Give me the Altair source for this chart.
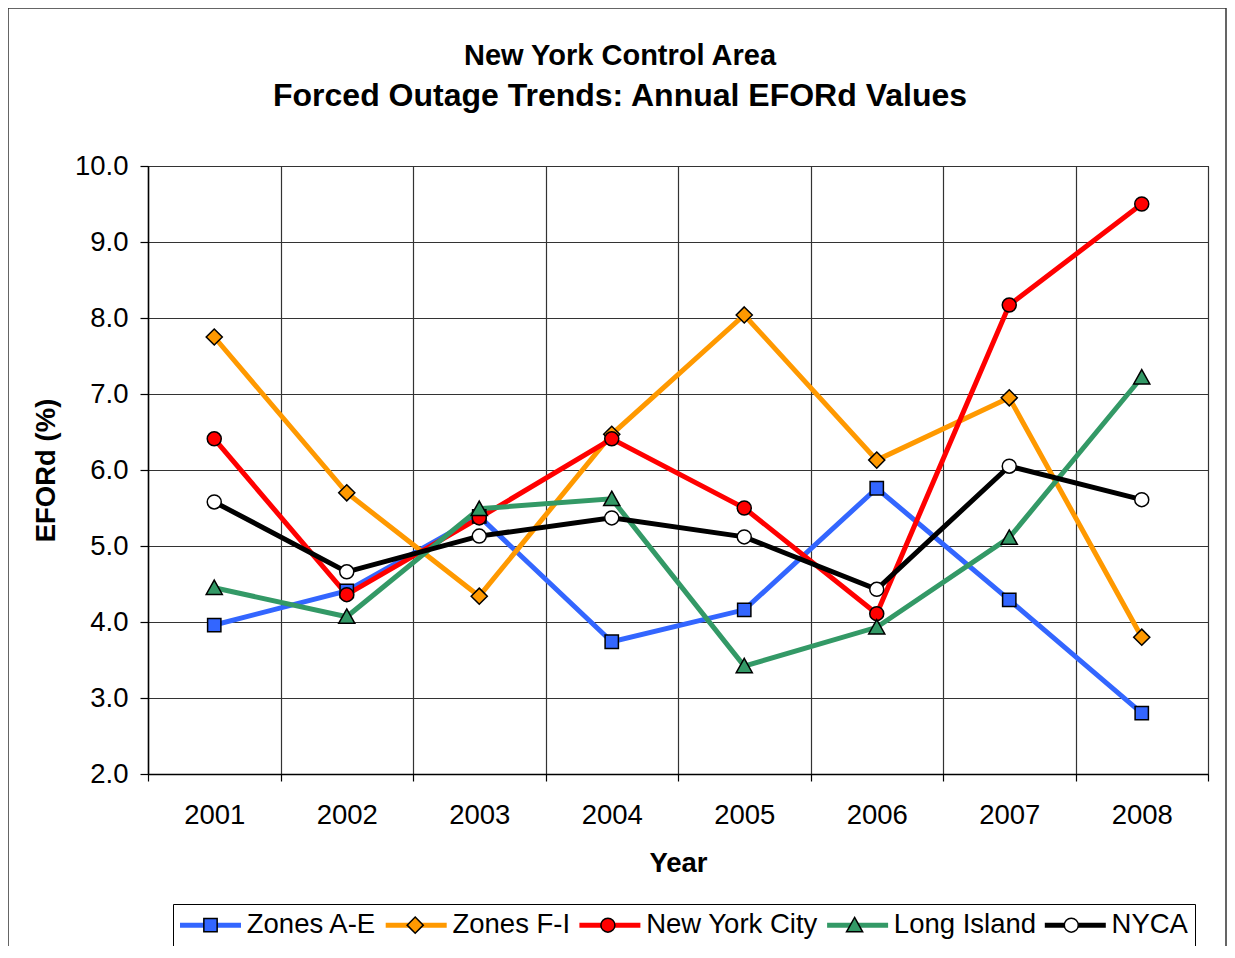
import altair as alt
import pandas as pd

years = ["2001", "2002", "2003", "2004", "2005", "2006", "2007", "2008"]
series = ["Zones A-E", "Zones F-I", "New York City", "Long Island", "NYCA"]

zones_ae = [3.96, 4.41, 5.39, 3.74, 4.16, 5.76, 4.29, 2.80]
zones_fi = [7.75, 5.70, 4.34, 6.47, 8.04, 6.13, 6.95, 3.80]
nyc = [6.41, 4.36, 5.37, 6.41, 5.50, 4.11, 8.17, 9.50]
long_island = [4.45, 4.07, 5.49, 5.62, 3.42, 3.93, 5.11, 7.22]
nyca = [5.58, 4.66, 5.13, 5.37, 5.12, 4.43, 6.05, 5.61]

line_colors = ["#3366FF", "#FF9900", "#FF0000", "#339966", "#000000"]
marker_fills = ["#3366FF", "#FF9900", "#FF0000", "#339966", "#FFFFFF"]
y_ticks = [2, 3, 4, 5, 6, 7, 8, 9, 10]
title_lines = ["New York Control Area", "Forced Outage Trends: Annual EFORd Values"]
y_title = "EFORd (%)"
x_title = "Year"

FONT = "Liberation Sans, Arial, sans-serif"

rows = []
for s, vals in zip(series, [zones_ae, zones_fi, nyc, long_island, nyca]):
    for yr, v in zip(years, vals):
        rows.append({"series": s, "year": yr, "value": v})
df = pd.DataFrame(rows)

# marker shapes (unit paths); leading move-to keeps legend entry bounds aligned with line legend
pre = "M-5.11,0"
marker_paths = [
    pre + "M-0.95,-0.95H0.95V0.95H-0.95Z",
    pre + "M0,-1.15L1.15,0L0,1.15L-1.15,0Z",
    pre + "M1,0A1,1,0,1,1,-1,0A1,1,0,1,1,1,0Z",
    pre + "M0,-1.1L1.15,0.95L-1.15,0.95Z",
    pre + "M1,0A1,1,0,1,1,-1,0A1,1,0,1,1,1,0Z",
]

x_enc = alt.X(
    "year:O",
    scale=alt.Scale(type="band", domain=years, paddingInner=0, paddingOuter=0),
    axis=alt.Axis(
        title=x_title, labelAngle=0, tickBand="extent", tickSize=7,
        labelPadding=20, titlePadding=21, grid=True,
    ),
)
y_enc = alt.Y(
    "value:Q",
    scale=alt.Scale(domain=[2, 10], nice=False, zero=False),
    axis=alt.Axis(
        title=y_title, values=y_ticks, format=".1f", tickSize=8,
        labelPadding=12, titlePadding=14, grid=True,
    ),
)

common_legend = dict(
    orient="none", legendX=25, legendY=738, direction="horizontal", title=None,
    symbolOffset=16.75, labelOffset=22.5, labelFontSize=27.5, labelFont=FONT,
    labelColor="black", labelLimit=400, padding=7, columnPadding=-1.3,
)

lines = alt.Chart(df).mark_line(strokeWidth=5).encode(
    x=x_enc,
    y=y_enc,
    color=alt.Color(
        "series:N",
        sort=series,
        scale=alt.Scale(range=line_colors),
        legend=alt.Legend(
            symbolType="M-3.05,0H3.05", symbolSize=400, symbolStrokeWidth=5,
            strokeColor="black", **common_legend,
        ),
    ),
    detail="series:N",
)

legend_b = alt.Legend(
    symbolSize=196, symbolStrokeWidth=1.5,
    symbolOpacity=1, labelOpacity=0, **common_legend,
)
points = alt.Chart(df).mark_point(
    filled=True, stroke="black", strokeWidth=1.5, size=196, opacity=1
).encode(
    x=x_enc,
    y=y_enc,
    shape=alt.Shape("series:N", scale=alt.Scale(domain=series, range=marker_paths), legend=legend_b),
    fill=alt.Fill("series:N", scale=alt.Scale(domain=series, range=marker_fills), legend=legend_b),
)

border = alt.Chart(alt.Data(values=[{"k": 1}])).mark_rect(
    filled=False, stroke="#333333", strokeWidth=1.5
).encode(
    x=alt.value(-140), x2=alt.value(1078), y=alt.value(-158), y2=alt.value(820)
)

title1 = alt.Chart(pd.DataFrame({"t": [title_lines[0]]})).mark_text(
    font=FONT, fontSize=29, fontWeight="bold", align="center", baseline="middle", color="black"
).encode(text="t:N", x=alt.value(472), y=alt.value(-110))

title2 = alt.Chart(pd.DataFrame({"t": [title_lines[1]]})).mark_text(
    font=FONT, fontSize=32, fontWeight="bold", align="center", baseline="middle", color="black"
).encode(text="t:N", x=alt.value(472), y=alt.value(-70))

chart = alt.layer(border, lines, points, title1, title2).properties(
    width=1060,
    height=608,
    autosize=alt.AutoSizeParams(type="none"),
    padding={"left": 140, "top": 158, "right": 19, "bottom": 172},
    background="white",
).configure_view(
    stroke="black", strokeWidth=1
).configure_axis(
    labelFont=FONT, titleFont=FONT, labelFontSize=27.5, titleFontSize=27.5,
    titleFontWeight="bold", labelColor="black", titleColor="black",
    domainColor="black", domainWidth=1.5, tickColor="black", tickWidth=1.2,
    gridColor="#333333", gridWidth=1.2, gridOpacity=1,
)

chart.save("out.html", embed_options={"renderer": "svg", "actions": False})
